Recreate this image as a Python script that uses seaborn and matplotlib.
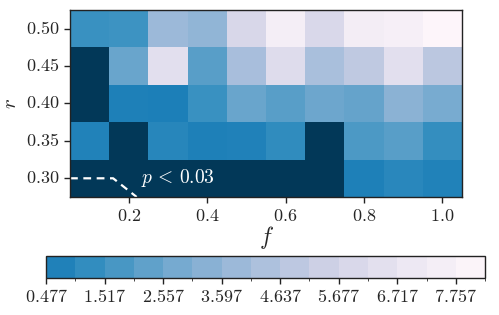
import numpy as np
import pandas as pd
import matplotlib
matplotlib.use("Agg")
import matplotlib.pyplot as plt
from matplotlib.colors import ListedColormap, LinearSegmentedColormap, BoundaryNorm
from matplotlib.cm import ScalarMappable
import seaborn as sns

# ---- data ----
f_values = [0.1, 0.2, 0.3, 0.4, 0.5, 0.6, 0.7, 0.8, 0.9, 1.0]
r_values = [0.50, 0.45, 0.40, 0.35, 0.30]  # top to bottom
# values (below 0.477 = significant region, drawn in darkest colour)
row_050 = [1.4, 1.5, 3.85, 3.55, 5.9, 7.5, 5.95, 7.4, 7.6, 8.1]
row_045 = [0.2, 2.5, 6.4, 2.1, 4.2, 6.2, 4.25, 4.95, 6.4, 4.8]
row_040 = [0.2, 0.7, 0.65, 1.4, 2.5, 2.1, 2.6, 2.4, 3.4, 2.85]
row_035 = [0.8, 0.2, 0.95, 0.7, 0.75, 1.2, 0.2, 1.85, 2.1, 1.3]
row_030 = [0.2, 0.2, 0.2, 0.2, 0.2, 0.2, 0.2, 0.7, 1.0, 0.8]
levels = [0.477 + 0.52 * i for i in range(16)]
cbar_ticks = [0.477, 1.517, 2.557, 3.597, 4.637, 5.677, 6.717, 7.757]
contour_f = [0.05, 0.16, 0.22]
contour_r = [0.30, 0.30, 0.275]
annot_text = r"$p\,<\,0.03$"

df = pd.DataFrame([row_050, row_045, row_040, row_035, row_030],
                  index=r_values, columns=f_values)

sns.set_style("ticks")
plt.rcParams["mathtext.fontset"] = "cm"
plt.rcParams["font.family"] = ["DejaVu Serif"]

base = plt.get_cmap("PuBu_r")
cont = LinearSegmentedColormap.from_list(
    "pubu_trunc", [base(x) for x in np.linspace(0.2966, 0.9984, 256)])
cont.set_under(base(0.0))
disc = ListedColormap([base(x) for x in np.linspace(0.32, 0.975, 15)])
disc.set_under(base(0.0))

fig = plt.figure(figsize=(4.99, 3.15), dpi=100)
ax = fig.add_axes([0.1403, 0.3746, 0.7856, 0.5937])
cax = fig.add_axes([0.0922, 0.1175, 0.880, 0.070])

sns.heatmap(df, ax=ax, cmap=cont, vmin=levels[0], vmax=levels[-1],
            cbar=False, linewidths=0)

def fx(f):
    return (np.asarray(f) - 0.05) / 0.1

def ry(r):
    return (0.525 - np.asarray(r)) / 0.05

for s in ax.spines.values():
    s.set_visible(True)
    s.set_color("#222222")
    s.set_linewidth(1.0)

xt = [0.2, 0.4, 0.6, 0.8, 1.0]
ax.set_xticks(fx(xt))
ax.set_xticklabels([f"${v:.1f}$" for v in xt], rotation=0, fontsize=13)
yt = [0.30, 0.35, 0.40, 0.45, 0.50]
ax.set_yticks(ry(yt))
ax.set_yticklabels([f"${v:.2f}$" for v in yt], rotation=0, fontsize=13)
ax.tick_params(axis="both", length=4, width=1, color="#222222", direction="out")
ax.set_xlabel(r"$f$", fontsize=17, labelpad=-1)
ax.set_ylabel(r"$r$", fontsize=15)
ax.yaxis.set_label_coords(-0.128, 0.5)

ax.plot(fx(contour_f), ry(contour_r), color="white", lw=1.6, ls=(0, (3.5, 2.5)),
        clip_on=False)
ax.text(fx(0.23), ry(0.30), annot_text, color="white", fontsize=14,
        ha="left", va="center")

sm = ScalarMappable(norm=BoundaryNorm(levels, disc.N), cmap=disc)
cb = fig.colorbar(sm, cax=cax, orientation="horizontal", ticks=cbar_ticks)
cb.set_ticklabels([f"${v:.3f}$" for v in cbar_ticks])
cax.tick_params(labelsize=13, length=4, width=1, color="#222222")
cb.outline.set_edgecolor("#222222")
cb.outline.set_linewidth(1.0)

fig.savefig("out.png", dpi=100)
